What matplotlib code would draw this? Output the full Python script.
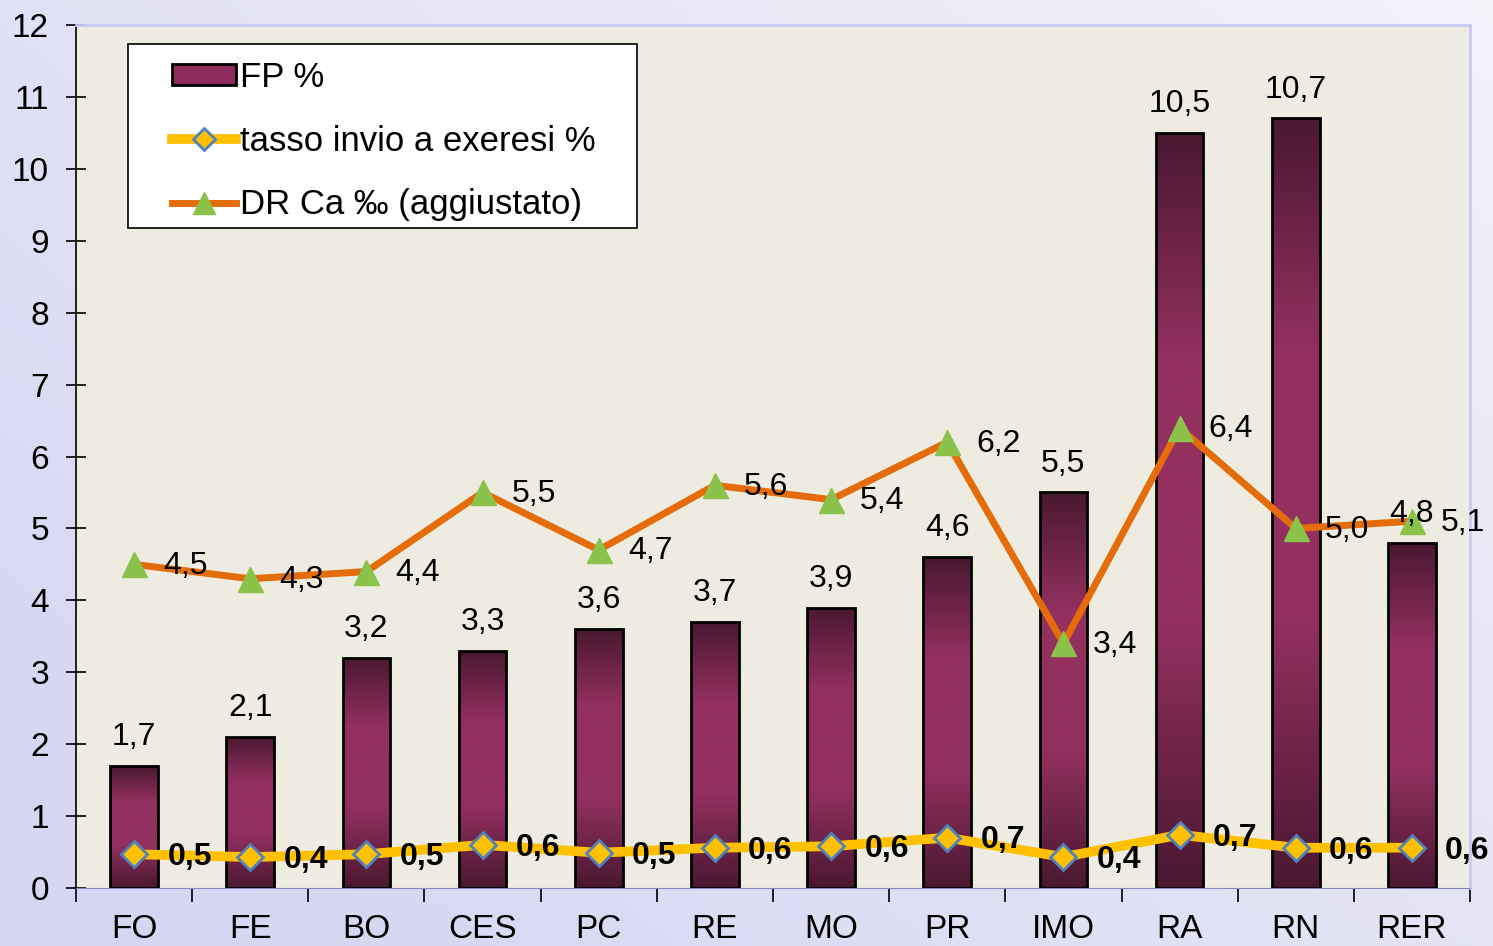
import matplotlib
matplotlib.use('Agg')
import matplotlib.pyplot as plt
import numpy as np
from matplotlib.colors import LinearSegmentedColormap
from matplotlib.patches import Patch, Rectangle
from matplotlib.lines import Line2D

plt.rcParams['font.family'] = ['Liberation Sans', 'DejaVu Sans']

# dati
categorie = ['FO', 'FE', 'BO', 'CES', 'PC', 'RE', 'MO', 'PR', 'IMO', 'RA', 'RN', 'RER']
fp = [1.7, 2.1, 3.2, 3.3, 3.6, 3.7, 3.9, 4.6, 5.5, 10.5, 10.7, 4.8]
tasso = [0.47, 0.43, 0.47, 0.6, 0.49, 0.56, 0.58, 0.7, 0.43, 0.74, 0.56, 0.56]
dr = [4.5, 4.3, 4.4, 5.5, 4.7, 5.6, 5.4, 6.2, 3.4, 6.4, 5.0, 5.1]


def virgola(v):
    return f"{v:.1f}".replace('.', ',')


W, H = 1493, 946
fig = plt.figure(figsize=(W / 100, H / 100), dpi=100)

# sfondo sfumato della figura
bg = fig.add_axes([0, 0, 1, 1], zorder=-10)
xx, yy = np.meshgrid(np.linspace(0, 1, 200), np.linspace(0, 1, 200))
c1 = np.array([0.84, 0.84, 0.95])
c2 = np.array([0.95, 0.95, 0.98])
t = np.clip(0.6 * xx + 0.5 * (1 - yy) - 0.1, 0, 1)[..., None]
img = c1 * (1 - t) + c2 * t
bg.imshow(img, extent=[0, 1, 0, 1], aspect='auto', origin='upper')
bg.axis('off')

ax = fig.add_axes([76 / W, 1 - 888 / H, (1470 - 76) / W, (888 - 25) / H])
ax.set_facecolor('#EEEBE0')

x = np.arange(len(categorie))
bars = ax.bar(x, fp, width=0.41, facecolor='none', edgecolor='black', linewidth=2, zorder=3)

# sfumatura delle barre
cmap = LinearSegmentedColormap.from_list('fp', [(0, '#4A1830'), (0.3, '#933060'),
                                                (0.65, '#933060'), (1, '#4A1830')])
grad = np.linspace(0, 1, 256).reshape(-1, 1)
for b in bars:
    x0, w, h = b.get_x(), b.get_width(), b.get_height()
    im = ax.imshow(grad, extent=[x0, x0 + w, 0, h], aspect='auto', cmap=cmap, zorder=2)
    im.set_clip_path(b)

ax.plot(x, tasso, color='#FFC000', linewidth=7, marker='D', markersize=13,
        markerfacecolor='#FFC000', markeredgecolor='#4F81BD', markeredgewidth=2, zorder=5)
ax.plot(x, dr, color='#E46C0A', linewidth=5, marker='^', markersize=18,
        markerfacecolor='#8BC34A', markeredgecolor='#8BC34A', zorder=4)

for xi, v in zip(x, fp):
    ax.annotate(virgola(v), (xi, v), xytext=(0, 10), textcoords='offset points',
                ha='center', va='bottom', fontsize=23, zorder=6)
for xi, v in zip(x, dr):
    ax.annotate(virgola(v), (xi, v), xytext=(21, -1), textcoords='offset points',
                ha='left', va='center', fontsize=23, zorder=6)
for xi, v in zip(x, tasso):
    ax.annotate(virgola(v), (xi, v), xytext=(24, -2), textcoords='offset points',
                ha='left', va='center', fontsize=23, fontweight='bold', zorder=6)

ax.set_xlim(-0.5, len(categorie) - 0.5)
ax.set_ylim(0, 12)
ax.set_yticks(range(0, 13))
ax.tick_params(axis='y', direction='inout', length=15, width=1.2, labelsize=24, pad=12)
ax.set_xticks(x)
ax.set_xticklabels(categorie)
ax.set_xticks(np.arange(-0.5, len(categorie)), minor=True)
ax.tick_params(axis='x', which='major', length=0, labelsize=24, pad=19)
ax.tick_params(axis='x', which='minor', direction='out', length=10, width=1.2)

for s in ['top', 'right']:
    ax.spines[s].set_color('#C8C8F5')
    ax.spines[s].set_linewidth(2)
ax.spines['bottom'].set_color('#8888BB')
ax.spines['left'].set_color('black')
ax.spines['left'].set_linewidth(1.2)

# riquadro della legenda
ax.add_patch(Rectangle((128 / W, 1 - 228 / H), 509 / W, 184 / H, transform=fig.transFigure,
                       facecolor='white', edgecolor='black', linewidth=1.2,
                       zorder=9, clip_on=False))

handles = [
    Patch(facecolor='#8B2C5C', edgecolor='black', linewidth=2),
    Line2D([], [], color='#FFC000', linewidth=7, marker='D', markersize=11,
           markerfacecolor='#FFC000', markeredgecolor='#4F81BD', markeredgewidth=2),
    Line2D([], [], color='#E46C0A', linewidth=5, marker='^', markersize=16,
           markerfacecolor='#8BC34A', markeredgecolor='#8BC34A'),
]
labels = ['FP %', 'tasso invio a exeresi %', 'DR Ca ‰ (aggiustato)']
leg = ax.legend(handles, labels, loc='upper left', bbox_to_anchor=(172 / W, 1 - 61 / H),
                bbox_transform=fig.transFigure, fontsize=25, frameon=False,
                handlelength=1.85, handletextpad=0.1, labelspacing=0.88,
                borderpad=0, borderaxespad=0, handleheight=0.55)
leg.set_zorder(10)

fig.savefig('out.png', dpi=100)
